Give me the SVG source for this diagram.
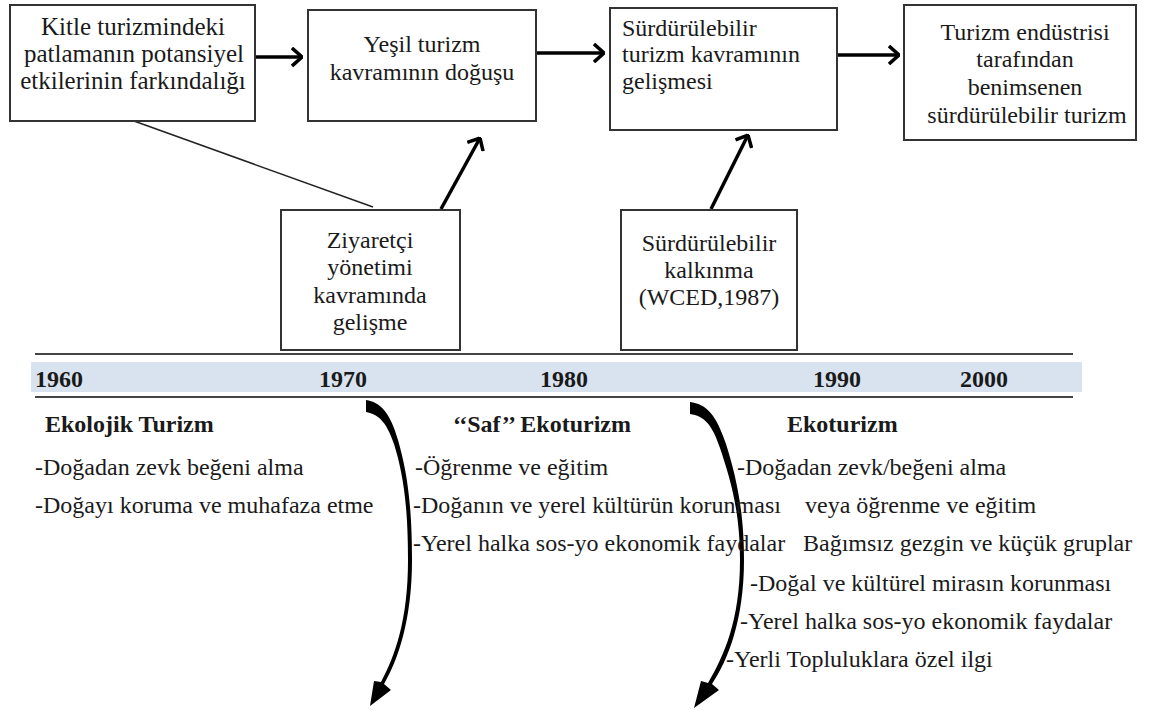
<svg xmlns="http://www.w3.org/2000/svg" width="1153" height="710" viewBox="0 0 1153 710">
<defs>
<style>
.box{fill:#fff;stroke:#333;stroke-width:2}
.t{font-family:"Liberation Serif","Times New Roman",serif;font-size:24px;fill:#1a1a1a}
.c{text-anchor:middle}
.b{font-weight:bold}
.big{font-size:25px}
.arr{stroke:#000;stroke-width:3.5;fill:none}
.ln{stroke:#222;stroke-width:1.5;fill:none}
</style>
<marker id="ah" viewBox="0 0 12 20" refX="11" refY="10" markerWidth="12" markerHeight="20" markerUnits="userSpaceOnUse" orient="auto">
<path d="M1,1 L11,10 L1,19" fill="none" stroke="#000" stroke-width="3.5"/>
</marker>
</defs>
<rect width="1153" height="710" fill="#fff"/>

<g id="timeline">
<rect x="31" y="362" width="1051" height="30" fill="#d9e3f0"/>
<line x1="35" y1="354" x2="1073" y2="354" stroke="#444" stroke-width="2"/>
<line x1="35" y1="397" x2="1073" y2="397" stroke="#444" stroke-width="2"/>
<text class="t b" x="35" y="387">1960</text>
<text class="t b" x="319" y="387">1970</text>
<text class="t b" x="540" y="387">1980</text>
<text class="t b" x="813" y="387">1990</text>
<text class="t b" x="960" y="387">2000</text>
</g>

<g id="connectors">
<line class="arr" x1="255" y1="57" x2="302" y2="57" marker-end="url(#ah)"/>
<line class="arr" x1="536" y1="53" x2="604" y2="53" marker-end="url(#ah)"/>
<line class="arr" x1="837" y1="55" x2="899" y2="55" marker-end="url(#ah)"/>
<line class="ln" x1="134" y1="121" x2="373" y2="207"/>
<line class="arr" x1="441" y1="209" x2="480" y2="138" marker-end="url(#ah)"/>
<line class="arr" x1="711" y1="209" x2="748" y2="135" marker-end="url(#ah)"/>
<path d="M366,400 C380,402 390,412 398,440 C406,468 412,500 412,560 C412,620 398,660 384,684 L391,690 L370,706 L374,681 L381,682 C395,656 408,620 408,560 C408,500 402,470 394,444 C386,420 377,414 366,412 Z" fill="#000"/>
<path d="M690,402 C706,404 716,414 726,444 C736,476 744,510 744,560 C744,620 728,660 712,684 L719,690 L694,708 L701,681 L708,683 C724,656 740,620 740,560 C740,510 730,478 720,448 C712,424 704,416 690,414 Z" fill="#000"/>
</g>

<g id="n1">
<rect class="box" x="10" y="5" width="245" height="116"/>
<text class="t c big" x="133" y="35">Kitle turizmindeki</text>
<text class="t c big" x="134" y="62">patlamanın potansiyel</text>
<text class="t c big" x="133" y="89">etkilerinin farkındalığı</text>
</g>
<g id="n2">
<rect class="box" x="308" y="10" width="228" height="111"/>
<text class="t c" x="422" y="52">Yeşil turizm</text>
<text class="t c" x="422" y="80">kavramının doğuşu</text>
</g>
<g id="n3">
<rect class="box" x="610" y="8" width="227" height="122"/>
<text class="t" x="622" y="36">Sürdürülebilir</text>
<text class="t" x="622" y="62">turizm kavramının</text>
<text class="t" x="622" y="89">gelişmesi</text>
</g>
<g id="n4">
<rect class="box" x="904" y="5" width="232" height="135"/>
<text class="t c" x="1025" y="40">Turizm endüstrisi</text>
<text class="t c" x="1025" y="67">tarafından</text>
<text class="t c" x="1025" y="95">benimsenen</text>
<text class="t c" x="1027" y="123">sürdürülebilir turizm</text>
</g>
<g id="n5">
<rect class="box" x="281" y="210" width="179" height="140"/>
<text class="t c" x="370" y="248">Ziyaretçi</text>
<text class="t c" x="370" y="275">yönetimi</text>
<text class="t c" x="370" y="303">kavramında</text>
<text class="t c" x="370" y="330">gelişme</text>
</g>
<g id="n6">
<rect class="box" x="621" y="210" width="176" height="140"/>
<text class="t c" x="709" y="251">Sürdürülebilir</text>
<text class="t c" x="709" y="278">kalkınma</text>
<text class="t c" x="709" y="305">(WCED,1987)</text>
</g>

<g id="col1">
<text class="t b" x="45" y="432">Ekolojik Turizm</text>
<text class="t" x="35" y="475">-Doğadan zevk beğeni alma</text>
<text class="t" x="35" y="513">-Doğayı koruma ve muhafaza etme</text>
</g>
<g id="col2">
<text class="t b" x="453" y="432">‘‘Saf’’ Ekoturizm</text>
<text class="t" x="415" y="475">-Öğrenme ve eğitim</text>
<text class="t" x="413" y="513">-Doğanın ve yerel kültürün korunması</text>
<text class="t" x="413" y="551">-Yerel halka sos-yo ekonomik faydalar</text>
</g>
<g id="col3">
<text class="t b" x="787" y="432">Ekoturizm</text>
<text class="t" x="737" y="475">-Doğadan zevk/beğeni alma</text>
<text class="t" x="805" y="513">veya öğrenme ve eğitim</text>
<text class="t" x="803" y="551">Bağımsız gezgin ve küçük gruplar</text>
<text class="t" x="750" y="591">-Doğal ve kültürel mirasın korunması</text>
<text class="t" x="740" y="629">-Yerel halka sos-yo ekonomik faydalar</text>
<text class="t" x="726" y="667">-Yerli Topluluklara özel ilgi</text>
</g>
</svg>
